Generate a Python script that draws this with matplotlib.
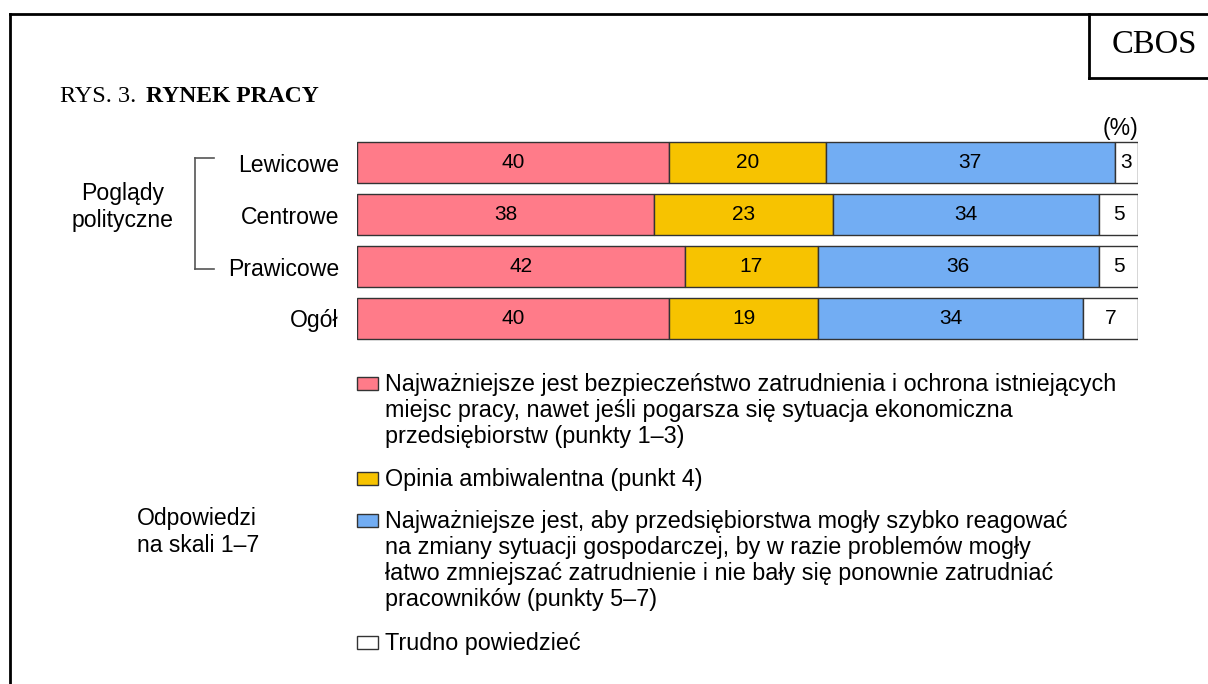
import numpy as np
import matplotlib
matplotlib.use("Agg")
import matplotlib.pyplot as plt
from matplotlib.patches import Rectangle
from matplotlib.lines import Line2D

# dane
groups = ["Lewicowe", "Centrowe", "Prawicowe", "Ogół"]
bezpieczenstwo = [40, 38, 42, 40]
ambiwalentna = [20, 23, 17, 19]
elastycznosc = [37, 34, 36, 34]
trudno = [3, 5, 5, 7]

legend_labels = [
    "Najważniejsze jest bezpieczeństwo zatrudnienia i ochrona istniejących\n"
    "miejsc pracy, nawet jeśli pogarsza się sytuacja ekonomiczna\n"
    "przedsiębiorstw (punkty 1–3)",
    "Opinia ambiwalentna (punkt 4)",
    "Najważniejsze jest, aby przedsiębiorstwa mogły szybko reagować\n"
    "na zmiany sytuacji gospodarczej, by w razie problemów mogły\n"
    "łatwo zmniejszać zatrudnienie i nie bały się ponownie zatrudniać\n"
    "pracowników (punkty 5–7)",
    "Trudno powiedzieć",
]
colors = ["#FF7B89", "#F7C300", "#72ADF3", "#FFFFFF"]

W, H = 1208, 684
plt.rcParams['font.family'] = ['Liberation Sans', 'DejaVu Sans']
FS = 16.8     # etykiety, legenda
FS_NUM = 15   # liczby na slupkach


def px(x, y):
    """piksele -> wspolrzedne figury"""
    return x / W, 1 - y / H


fig = plt.figure(figsize=(W / 100, H / 100), dpi=100)

# osie dla slupkow
ax = fig.add_axes([357 / W, (H - 344.5) / H, 781 / W, 208 / H])
series = [bezpieczenstwo, ambiwalentna, elastycznosc, trudno]
y = np.arange(len(groups))
left = np.zeros(len(groups))
for vals, c in zip(series, colors):
    bars = ax.barh(y, vals, left=left, height=0.79, color=c,
                   edgecolor="#333333", linewidth=1.0)
    ax.bar_label(bars, labels=[str(v) for v in vals], label_type="center",
                 fontsize=FS_NUM, color="black")
    left += np.array(vals)

ax.set_xlim(0, 100)
ax.set_ylim(3.5, -0.5)
ax.set_yticks(y)
ax.set_yticklabels(groups, fontsize=16.6)
ax.tick_params(axis="y", length=0, pad=13)
ax.set_xticks([])
for s in ax.spines.values():
    s.set_visible(False)

# ramka
fig.add_artist(Line2D([10 / W, 10 / W], [0, 1 - 14 / H], color="black", lw=2))
fig.add_artist(Line2D([10 / W, 1], [1 - 14 / H, 1 - 14 / H], color="black", lw=2))
fig.add_artist(Line2D([1089 / W, 1089 / W], [1 - 14 / H, 1 - 78 / H], color="black", lw=2))
fig.add_artist(Line2D([1089 / W, 1], [1 - 78 / H, 1 - 78 / H], color="black", lw=2))
fig.text(*px(1154, 45), "CBOS", family="Liberation Serif", fontsize=23.5,
         ha="center", va="center")

# tytul
fig.text(*px(60, 97), "RYS. 3.", family="Liberation Serif", fontsize=17.5,
         ha="left", va="center")
fig.text(*px(146, 97), "RYNEK PRACY", family="Liberation Serif",
         fontsize=17, fontweight="bold", ha="left", va="center")

fig.text(*px(1138, 129), "(%)", fontsize=16.6, ha="right", va="center")

# nawias
bc = "#555555"
fig.add_artist(Line2D([195 / W, 195 / W], [1 - 158 / H, 1 - 269 / H], color=bc, lw=1.2))
fig.add_artist(Line2D([195 / W, 214 / W], [1 - 158 / H, 1 - 158 / H], color=bc, lw=1.2))
fig.add_artist(Line2D([195 / W, 214 / W], [1 - 269 / H, 1 - 269 / H], color=bc, lw=1.2))
fig.text(*px(123, 207), "Poglądy\npolityczne", fontsize=16.6, ha="center",
         va="center", linespacing=1.18)

fig.text(*px(137, 532), "Odpowiedzi\nna skali 1–7", fontsize=16.6, ha="left",
         va="center", linespacing=1.18)

# legenda: srodki pierwszych linii
centers = [383, 478, 520, 642]
for cy, lab, c in zip(centers, legend_labels, colors):
    fig.add_artist(Rectangle(px(357, cy + 7), 21 / W, 13 / H, facecolor=c,
                             edgecolor="#333333", lw=1.0,
                             transform=fig.transFigure))
    fig.text(*px(385, cy - 10), lab, fontsize=FS, ha="left", va="top",
             linespacing=1.16)

fig.savefig("out.png", dpi=100)
